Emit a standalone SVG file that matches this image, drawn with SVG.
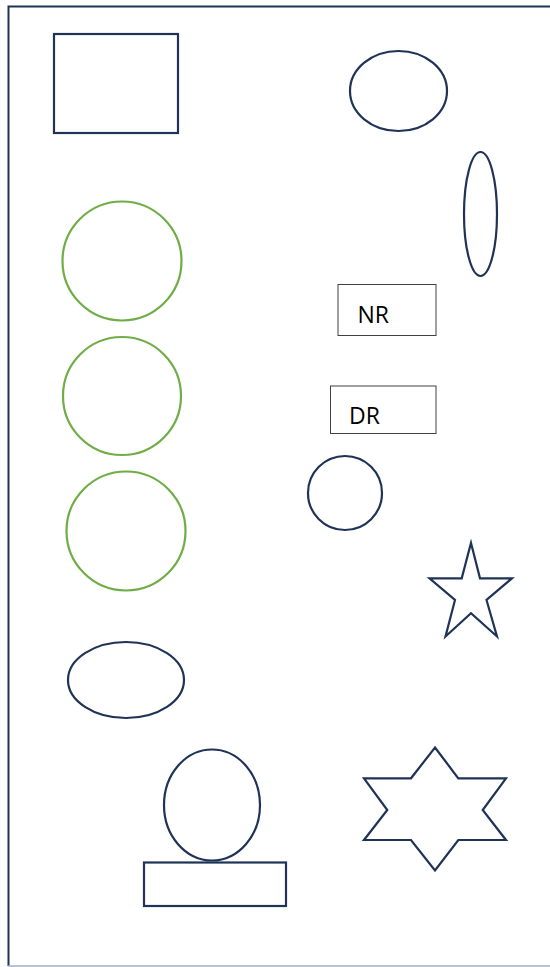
<svg xmlns="http://www.w3.org/2000/svg" width="550" height="967" viewBox="0 0 550 967">
<style>
.s{fill:#fff;stroke:#1f3357;stroke-width:2.2}
.g{fill:#fff;stroke:#70ad47;stroke-width:2.2}
.b{fill:#fff;stroke:#404040;stroke-width:1}
.t{font-family:"Open Sans","Noto Sans",sans-serif;font-size:23px;fill:#000}
</style>
<rect width="550" height="967" fill="#fff"/>
<g id="frame">
<path d="M8.5 966 V6.5 H550" fill="none" stroke="#1f3357" stroke-width="2"/>
<line x1="8" y1="966" x2="550" y2="966" stroke="#a4afc0" stroke-width="1.5"/>
</g>
<g id="rect1"><rect class="s" x="54" y="34" width="124" height="99"/></g>
<g id="ellipse1"><ellipse class="s" cx="398.5" cy="91" rx="48.5" ry="40"/></g>
<g id="ellipse2"><ellipse class="s" cx="480.5" cy="214" rx="16.5" ry="62"/></g>
<g id="circle1"><circle class="g" cx="122" cy="261" r="59.5"/></g>
<g id="circle2"><circle class="g" cx="122" cy="396" r="59"/></g>
<g id="circle3"><circle class="g" cx="126" cy="531" r="59.5"/></g>
<g id="nr"><rect class="b" x="338" y="284.5" width="98" height="51"/><text class="t" x="357.5" y="322.5">NR</text></g>
<g id="dr"><rect class="b" x="330.5" y="386" width="105.5" height="47.5"/><text class="t" x="349" y="424">DR</text></g>
<g id="circle4"><circle class="s" cx="345" cy="493" r="37"/></g>
<g id="star5"><polygon class="s" points="471,543 480,578.3 512,578.3 486.5,600 497,636.5 471,613.3 445.5,636.5 455,600 429.5,578.3 461.7,578.3"/></g>
<g id="ellipse3"><ellipse class="s" cx="126" cy="680" rx="58" ry="38"/></g>
<g id="hexagram"><polygon class="s" points="435,747.5 458.3,778.3 506,778.3 482.7,810 506,840 458.3,840 435,870.5 411,840 364,840 387.3,810 364,778.3 411,778.3"/></g>
<g id="ellipse4"><ellipse class="s" cx="212" cy="805" rx="48" ry="55.5"/></g>
<g id="rect2"><rect class="s" x="144" y="862.5" width="142" height="43.5"/></g>
</svg>
